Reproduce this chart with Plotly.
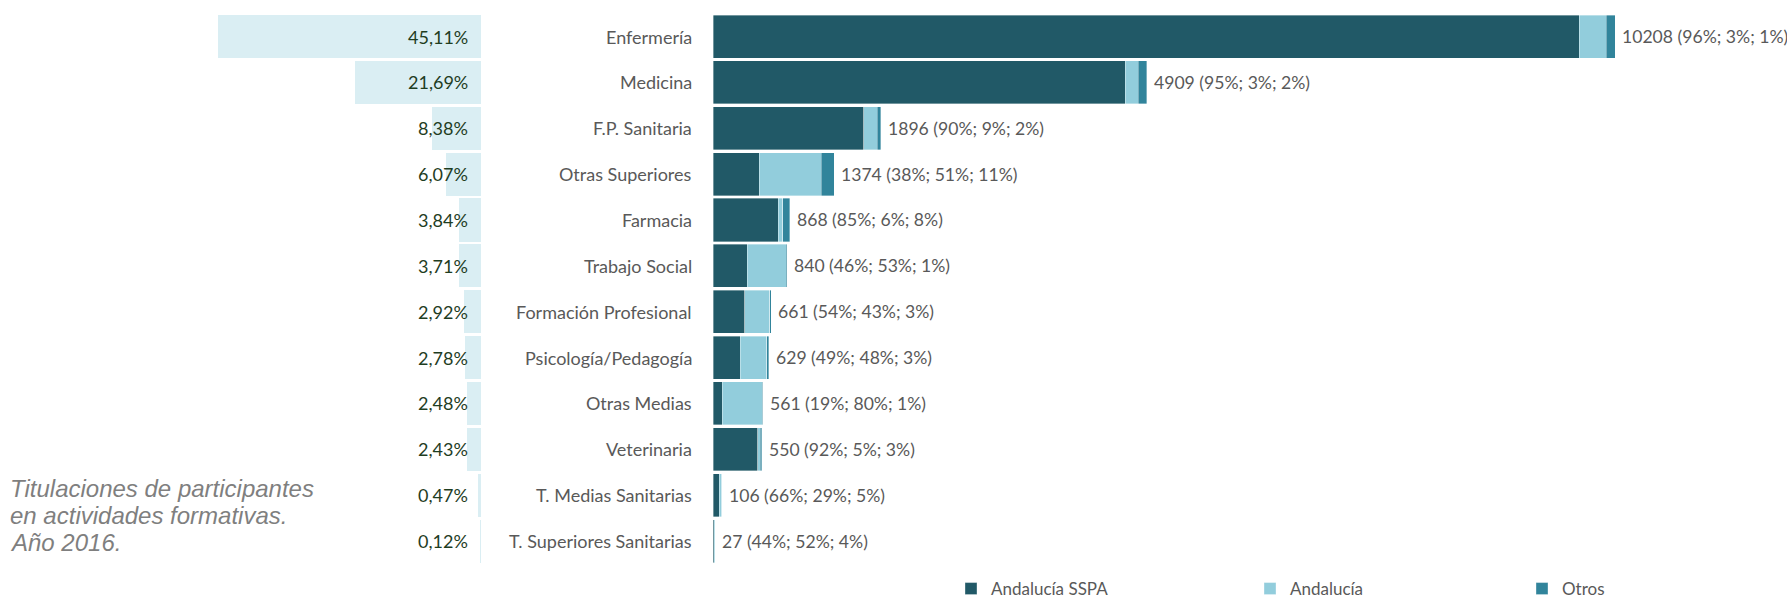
import plotly.graph_objects as go

# ---------------- data ----------------
categories = ["Enfermería", "Medicina", "F.P. Sanitaria", "Otras Superiores", "Farmacia",
              "Trabajo Social", "Formación Profesional", "Psicología/Pedagogía", "Otras Medias",
              "Veterinaria", "T. Medias Sanitarias", "T. Superiores Sanitarias"]
share_pct = [45.11, 21.69, 8.38, 6.07, 3.84, 3.71, 2.92, 2.78, 2.48, 2.43, 0.47, 0.12]
totals = [10208, 4909, 1896, 1374, 868, 840, 661, 629, 561, 550, 106, 27]
pct_sspa = [96, 95, 90, 38, 85, 46, 54, 49, 19, 92, 66, 44]
pct_and = [3, 3, 9, 51, 6, 53, 43, 48, 80, 5, 29, 52]
pct_otros = [1, 2, 2, 11, 8, 1, 3, 3, 1, 3, 5, 4]
# counts per origin
n_sspa = [9800, 4664, 1706, 522, 738, 386, 357, 308, 107, 506, 70, 12]
n_and = [306, 147, 152, 701, 52, 445, 284, 302, 449, 28, 31, 14]
n_otros = [102, 98, 38, 151, 78, 9, 20, 19, 5, 16, 5, 1]
series_names = ["Andalucía SSPA", "Andalucía", "Otros"]
title_lines = ["Titulaciones de participantes", "en actividades formativas.", "Año 2016."]

# ---------------- style ----------------
W, H = 1787, 600
C_DARK, C_LIGHT, C_TEAL, C_SHARE = "#215967", "#92CDDC", "#31849B", "#DAEEF3"
GREY = "#595959"
FONT = "Lato"

fig = go.Figure()

# left: share of total
fig.add_trace(go.Bar(
    y=categories, x=share_pct, orientation="h", xaxis="x", yaxis="y",
    marker=dict(color=C_SHARE, line=dict(width=0)), showlegend=False, hoverinfo="x+y"))

# right: stacked counts
for name, vals, col, lg in zip(series_names, [n_sspa, n_and, n_otros],
                               [C_DARK, C_LIGHT, C_TEAL], ["legend", "legend2", "legend3"]):
    fig.add_trace(go.Bar(
        y=categories, x=vals, orientation="h", xaxis="x2", yaxis="y", name=name,
        marker=dict(color=col, line=dict(width=0.6, color="rgba(255,255,255,0.6)")),
        legend=lg))

ann = []
for cat, s in zip(categories, share_pct):
    ann.append(dict(x=0, y=cat, xref="x", yref="y", xanchor="right", xshift=-11,
                    text=f"{s:.2f}%".replace(".", ","), showarrow=False,
                    font=dict(family=FONT, size=18, color="#1F3D1F")))
    ann.append(dict(x=694 / W, y=cat, xref="paper", yref="y", xanchor="right",
                    text=cat, showarrow=False, font=dict(family=FONT, size=18, color=GREY)))
for cat, t, a, b, c in zip(categories, totals, pct_sspa, pct_and, pct_otros):
    ann.append(dict(x=t, y=cat, xref="x2", yref="y", xanchor="left", xshift=5,
                    text=f"{t} ({a}%; {b}%; {c}%)", showarrow=False,
                    font=dict(family=FONT, size=17.6, color=GREY)))
for i, line in enumerate(title_lines):
    ann.append(dict(x=8 / W, y=1 - (488 + 27 * i) / H, xref="paper", yref="paper",
                    xanchor="left", yanchor="middle", text=f"<i>{line}</i>", showarrow=False,
                    font=dict(family="Liberation Sans", size=24, color="#7F7F7F")))

leg_common = dict(orientation="h", yanchor="middle", y=1 - 589 / H, xanchor="left",
                  font=dict(family=FONT, size=17, color=GREY), bgcolor="rgba(0,0,0,0)",
                  itemclick=False, itemdoubleclick=False)

fig.update_layout(
    width=W, height=H, margin=dict(l=0, r=0, t=0, b=0, autoexpand=False),
    paper_bgcolor="white", plot_bgcolor="white",
    barmode="stack", bargap=0.062,
    xaxis=dict(domain=[0, 481 / W], range=[481 / 5.83, 0], showgrid=False, zeroline=False,
               showticklabels=False, fixedrange=True),
    xaxis2=dict(domain=[713 / W, 1], range=[0, (W - 713) / 0.0884], showgrid=False,
                zeroline=False, showticklabels=False, fixedrange=True),
    yaxis=dict(domain=[1 - 564 / H, 1 - 13.6 / H], categoryorder="array",
               categoryarray=categories, autorange="reversed", showticklabels=False,
               showgrid=False, zeroline=False, fixedrange=True),
    legend=dict(x=951 / W, **leg_common),
    legend2=dict(x=1250 / W, **leg_common),
    legend3=dict(x=1522 / W, **leg_common),
    annotations=ann,
    showlegend=True,
)

fig.write_html(
    "out.html",
    config={"displayModeBar": False},
    post_script=(
        "document.documentElement.style.margin='0';"
        "document.documentElement.style.overflow='hidden';"
        "document.body.style.margin='0';"
        "document.body.style.overflow='hidden';"
        "document.body.style.height='600px';"
    ),
)
